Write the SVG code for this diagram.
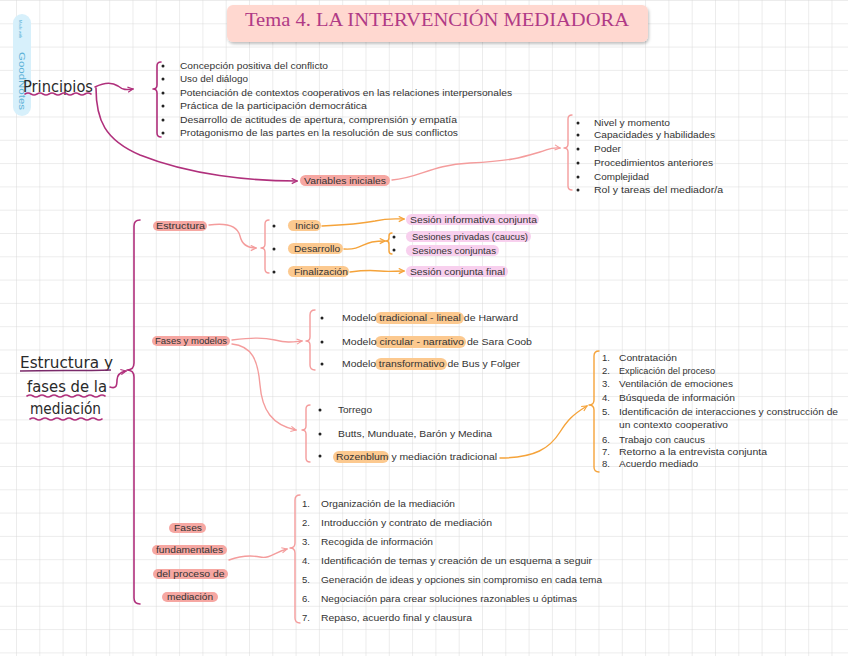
<svg xmlns="http://www.w3.org/2000/svg" width="848" height="656" viewBox="0 0 848 656">
<defs>
<pattern id="grid" patternUnits="userSpaceOnUse" x="16" y="0" width="23.3" height="23.3">
<path d="M0,0 H23.3 M0,0 V23.3" fill="none" stroke="#d9d9d9" stroke-width="1"/>
</pattern>
<filter id="shadow" x="-5%" y="-20%" width="110%" height="160%">
<feDropShadow dx="1" dy="2" stdDeviation="1.5" flood-color="#000" flood-opacity="0.25"/>
</filter>
<marker id="am" viewBox="0 0 8 8" refX="7" refY="4" markerWidth="7" markerHeight="7" orient="auto" markerUnits="userSpaceOnUse">
<path d="M1,1 L7,4 L1,7" fill="none" stroke="#b0307c" stroke-width="1.3"/>
</marker>
<marker id="as" viewBox="0 0 8 8" refX="7" refY="4" markerWidth="7" markerHeight="7" orient="auto" markerUnits="userSpaceOnUse">
<path d="M1,1 L7,4 L1,7" fill="none" stroke="#f49c9c" stroke-width="1.3"/>
</marker>
<marker id="ao" viewBox="0 0 8 8" refX="7" refY="4" markerWidth="7" markerHeight="7" orient="auto" markerUnits="userSpaceOnUse">
<path d="M1,1 L7,4 L1,7" fill="none" stroke="#f5a33a" stroke-width="1.3"/>
</marker>
</defs>
<style>
.t{font-family:"Liberation Sans","DejaVu Sans",sans-serif;font-size:9.5px;fill:#333;}
.big{font-family:"DejaVu Sans","Liberation Sans",sans-serif;font-size:15px;fill:#2a2a2a;}
.m{fill:none;stroke:#b0307c;stroke-width:1.6;stroke-linecap:round;stroke-linejoin:round;}
.s{fill:none;stroke:#f49c9c;stroke-width:1.4;stroke-linecap:round;stroke-linejoin:round;}
.o{fill:none;stroke:#f5a33a;stroke-width:1.4;stroke-linecap:round;stroke-linejoin:round;}
.ps{fill:#f6a7a2;}
.po{fill:#fcc98f;}
.pp{fill:#f8d0ee;}
.dot{fill:#222;}
</style>
<rect width="848" height="656" fill="#fff"/>
<rect width="848" height="656" fill="url(#grid)"/>

<g id="watermark">
<rect x="13" y="14" width="18" height="102" rx="9" fill="#d7f0fb"/>
<text transform="translate(19,20) rotate(90)" font-family="Liberation Sans,sans-serif" font-size="4" fill="#5fb3d8">Made with</text>
<text transform="translate(18.5,52) rotate(90)" font-family="Liberation Sans,sans-serif" font-size="9" fill="#5fb3d8" textLength="58" lengthAdjust="spacingAndGlyphs">GoodNotes</text>
</g>

<g id="title">
<rect x="227" y="5" width="421" height="37" rx="6" fill="#ffd8d0" filter="url(#shadow)"/>
<text x="437" y="26" text-anchor="middle" font-family="Liberation Serif,serif" font-size="19" fill="#b03a86" textLength="384" lengthAdjust="spacingAndGlyphs">Tema 4. LA INTERVENCIÓN MEDIADORA</text>
</g>

<g id="connectors">
<path class="m" d="M95,87 C105,82 112,82 118,86 C123,90 126,90 133,89" marker-end="url(#am)"/>
<path class="m" d="M96,88 C96,120 105,140 140,155 C190,175 250,181 297,181" marker-end="url(#am)"/>
<path class="s" d="M392,180 C420,178 430,165 470,163 C510,161 520,158 540,152 C548,150 550,147 560,148" marker-end="url(#as)"/>
<path class="m" d="M110,387 C116,389 117,386 117,380 C117,374 121,372 126,371" marker-end="url(#am)"/>
<path class="s" d="M209,225 C230,222 238,228 240,236 C242,245 248,248 256,248" marker-end="url(#as)"/>
<path class="o" d="M322,226 C345,225 360,224 375,221 C388,218 395,219 404,219" marker-end="url(#ao)"/>
<path class="o" d="M344,249 C360,250 362,244 372,242 C378,241 380,241 385,241" marker-end="url(#ao)"/>
<path class="o" d="M350,272 C365,270 370,270 380,271 C390,272 395,271 404,271" marker-end="url(#ao)"/>
<path class="s" d="M232,340 C250,338 262,337 275,340 C288,343 292,342 302,341" marker-end="url(#as)"/>
<path class="s" d="M232,344 C252,346 258,360 260,385 C262,410 272,425 296,430" marker-end="url(#as)"/>
<path class="o" d="M500,458 C535,458 550,448 560,432 C567,421 572,415 587,406" marker-end="url(#ao)"/>
<path class="s" d="M229,560 C240,556 250,555 260,557 C270,559 275,552 287,549" marker-end="url(#as)"/>
</g>

<g id="principios">
<text class="big" x="23" y="92" textLength="70" lengthAdjust="spacingAndGlyphs">Principios</text>
<path class="m" d="M25,94 q3,-2 6,0 t6,0 t6,0 t6,0 t6,0 t6,0 t6,0 t6,0 t6,0 t6,0 t6,0"/>
</g>

<g id="principios-list">
<path class="m" d="M161,62 Q157,62 157,66 L157,85 Q157,89 153,89 Q157,89 157,93 L157,133 Q157,137 161,137"/>
<circle class="dot" cx="163" cy="66" r="1.5"/>
<circle class="dot" cx="163" cy="79" r="1.5"/>
<circle class="dot" cx="163" cy="93" r="1.5"/>
<circle class="dot" cx="163" cy="106" r="1.5"/>
<circle class="dot" cx="163" cy="120" r="1.5"/>
<circle class="dot" cx="163" cy="133" r="1.5"/>
<text class="t" x="180" y="69" textLength="148" lengthAdjust="spacingAndGlyphs">Concepción positiva del conflicto</text>
<text class="t" x="180" y="82" textLength="68" lengthAdjust="spacingAndGlyphs">Uso del diálogo</text>
<text class="t" x="180" y="96" textLength="332" lengthAdjust="spacingAndGlyphs">Potenciación de contextos cooperativos en las relaciones interpersonales</text>
<text class="t" x="180" y="109" textLength="187" lengthAdjust="spacingAndGlyphs">Práctica de la participación democrática</text>
<text class="t" x="180" y="123" textLength="277" lengthAdjust="spacingAndGlyphs">Desarrollo de actitudes de apertura, comprensión y empatía</text>
<text class="t" x="180" y="136" textLength="278" lengthAdjust="spacingAndGlyphs">Protagonismo de las partes en la resolución de sus conflictos</text>
</g>

<g id="variables">
<rect class="ps" x="300" y="175" width="90" height="11" rx="5.5"/>
<text class="t" x="304" y="184" textLength="82" lengthAdjust="spacingAndGlyphs">Variables iniciales</text>
</g>

<g id="variables-list">
<path class="s" d="M572,115 Q568,115 568,119 L568,144 Q568,148 564,148 Q568,148 568,152 L568,186 Q568,190 572,190"/>
<circle class="dot" cx="578" cy="123" r="1.5"/>
<circle class="dot" cx="578" cy="135" r="1.5"/>
<circle class="dot" cx="578" cy="149" r="1.5"/>
<circle class="dot" cx="578" cy="163" r="1.5"/>
<circle class="dot" cx="578" cy="177" r="1.5"/>
<circle class="dot" cx="578" cy="190" r="1.5"/>
<text class="t" x="594" y="126" textLength="76" lengthAdjust="spacingAndGlyphs">Nivel y momento</text>
<text class="t" x="594" y="138" textLength="121" lengthAdjust="spacingAndGlyphs">Capacidades y habilidades</text>
<text class="t" x="594" y="152" textLength="27" lengthAdjust="spacingAndGlyphs">Poder</text>
<text class="t" x="594" y="166" textLength="119" lengthAdjust="spacingAndGlyphs">Procedimientos anteriores</text>
<text class="t" x="594" y="180" textLength="55" lengthAdjust="spacingAndGlyphs">Complejidad</text>
<text class="t" x="594" y="193" textLength="129" lengthAdjust="spacingAndGlyphs">Rol y tareas del mediador/a</text>
</g>

<g id="estructura-fases">
<text class="big" x="20" y="368" textLength="93" lengthAdjust="spacingAndGlyphs">Estructura y</text>
<text class="big" x="27" y="392" textLength="80" lengthAdjust="spacingAndGlyphs">fases de la</text>
<text class="big" x="30" y="414" textLength="71" lengthAdjust="spacingAndGlyphs">mediación</text>
<path d="M20,371 C50,370 80,371 111,370" fill="none" stroke="#7a2a6a" stroke-width="1.4"/>
<path class="m" d="M27,396 q3,-2 6,0 t6,0 t6,0 t6,0 t6,0 t6,0 t6,0 t6,0 t6,0 t6,0 t6,0 t6,0 t6,0"/>
<path class="m" d="M30,419 q3,-2 6,0 t6,0 t6,0 t6,0 t6,0 t6,0 t6,0 t6,0 t6,0 t6,0 t6,0 t6,0"/>
<path class="m" stroke-width="2" d="M140,220 Q134,220 134,226 L134,363 Q134,370 127,370 Q134,370 134,377 L134,598 Q134,604 140,604"/>
</g>

<g id="estructura">
<rect class="ps" x="153" y="221" width="54" height="10" rx="5"/>
<text class="t" x="156" y="229" textLength="49" lengthAdjust="spacingAndGlyphs">Estructura</text>
</g>

<g id="estructura-list">
<path class="s" d="M269,220 Q265,220 265,224 L265,244 Q265,248 261,248 Q265,248 265,252 L265,269 Q265,273 269,273"/>
<circle class="dot" cx="274" cy="226" r="1.5"/>
<circle class="dot" cx="274" cy="249" r="1.5"/>
<circle class="dot" cx="274" cy="272" r="1.5"/>
<rect class="po" x="288" y="220" width="33" height="11" rx="5.5"/>
<text class="t" x="295" y="229" textLength="24" lengthAdjust="spacingAndGlyphs">Inicio</text>
<rect class="po" x="288" y="243" width="55" height="11" rx="5.5"/>
<text class="t" x="294" y="252" textLength="46" lengthAdjust="spacingAndGlyphs">Desarrollo</text>
<rect class="po" x="288" y="266" width="61" height="11" rx="5.5"/>
<text class="t" x="294" y="275" textLength="54" lengthAdjust="spacingAndGlyphs">Finalización</text>
</g>

<g id="inicio-item">
<rect class="pp" x="406" y="214" width="133" height="11" rx="5.5"/>
<text class="t" x="410" y="223" textLength="127" lengthAdjust="spacingAndGlyphs">Sesión informativa conjunta</text>
</g>

<g id="desarrollo-items">
<path class="o" d="M392,233 Q389,233 389,236 L389,238 Q389,241 386,241 Q389,241 389,244 L389,251 Q389,254 392,254"/>
<circle class="dot" cx="394" cy="237" r="1.5"/>
<circle class="dot" cx="394" cy="250" r="1.5"/>
<rect class="pp" x="406" y="231" width="125" height="11" rx="5.5"/>
<text class="t" x="412" y="240" textLength="116" lengthAdjust="spacingAndGlyphs">Sesiones privadas (caucus)</text>
<rect class="pp" x="406" y="245" width="93" height="11" rx="5.5"/>
<text class="t" x="412" y="254" textLength="84" lengthAdjust="spacingAndGlyphs">Sesiones conjuntas</text>
</g>

<g id="finalizacion-item">
<rect class="pp" x="406" y="266" width="102" height="11" rx="5.5"/>
<text class="t" x="410" y="275" textLength="95" lengthAdjust="spacingAndGlyphs">Sesión conjunta final</text>
</g>

<g id="fases-modelos">
<rect class="ps" x="152" y="336" width="78" height="10" rx="5"/>
<text class="t" x="155" y="344" textLength="72" lengthAdjust="spacingAndGlyphs">Fases y modelos</text>
</g>

<g id="modelos-list">
<path class="s" d="M315,310 Q310,310 310,315 L310,337 Q310,341 306,341 Q310,341 310,345 L310,365 Q310,370 315,370"/>
<circle class="dot" cx="322" cy="318" r="1.5"/>
<circle class="dot" cx="322" cy="342" r="1.5"/>
<circle class="dot" cx="322" cy="364" r="1.5"/>
<rect class="po" x="375" y="312" width="89" height="12" rx="6"/>
<rect class="po" x="375" y="336" width="91" height="12" rx="6"/>
<rect class="po" x="375" y="358" width="72" height="12" rx="6"/>
<text class="t" x="342" y="321" textLength="176" lengthAdjust="spacingAndGlyphs">Modelo tradicional - lineal de Harward</text>
<text class="t" x="342" y="345" textLength="190" lengthAdjust="spacingAndGlyphs">Modelo circular - narrativo de Sara Coob</text>
<text class="t" x="342" y="367" textLength="178" lengthAdjust="spacingAndGlyphs">Modelo transformativo de Bus y Folger</text>
</g>

<g id="autores-list">
<path class="s" d="M310,405 Q306,405 306,409 L306,426 Q306,430 302,430 Q306,430 306,434 L306,458 Q306,462 310,462"/>
<circle class="dot" cx="320" cy="410" r="1.5"/>
<circle class="dot" cx="320" cy="434" r="1.5"/>
<circle class="dot" cx="320" cy="456" r="1.5"/>
<rect class="po" x="333" y="451" width="56" height="12" rx="6"/>
<text class="t" x="338" y="413" textLength="34" lengthAdjust="spacingAndGlyphs">Torrego</text>
<text class="t" x="338" y="437" textLength="154" lengthAdjust="spacingAndGlyphs">Butts, Munduate, Barón y Medina</text>
<text class="t" x="336" y="460" textLength="161" lengthAdjust="spacingAndGlyphs">Rozenblum y mediación tradicional</text>
</g>

<g id="rozenblum-fases">
<path class="o" d="M599,351 Q594,351 594,356 L594,400 Q594,405 589,405 Q594,405 594,410 L594,467 Q594,472 599,472"/>
<text class="t" x="602" y="361">1.</text>
<text class="t" x="602" y="374">2.</text>
<text class="t" x="602" y="387">3.</text>
<text class="t" x="602" y="401">4.</text>
<text class="t" x="602" y="415">5.</text>
<text class="t" x="602" y="443">6.</text>
<text class="t" x="602" y="455">7.</text>
<text class="t" x="602" y="467">8.</text>
<text class="t" x="619" y="361" textLength="58" lengthAdjust="spacingAndGlyphs">Contratación</text>
<text class="t" x="619" y="374" textLength="96" lengthAdjust="spacingAndGlyphs">Explicación del proceso</text>
<text class="t" x="619" y="387" textLength="114" lengthAdjust="spacingAndGlyphs">Ventilación de emociones</text>
<text class="t" x="619" y="401" textLength="116" lengthAdjust="spacingAndGlyphs">Búsqueda de información</text>
<text class="t" x="619" y="415" textLength="219" lengthAdjust="spacingAndGlyphs">Identificación de interacciones y construcción de</text>
<text class="t" x="619" y="428" textLength="109" lengthAdjust="spacingAndGlyphs">un contexto cooperativo</text>
<text class="t" x="619" y="443" textLength="86" lengthAdjust="spacingAndGlyphs">Trabajo con caucus</text>
<text class="t" x="619" y="455" textLength="148" lengthAdjust="spacingAndGlyphs">Retorno a la entrevista conjunta</text>
<text class="t" x="619" y="467" textLength="79" lengthAdjust="spacingAndGlyphs">Acuerdo mediado</text>
</g>

<g id="fases-fundamentales">
<rect class="ps" x="169" y="523" width="37" height="10" rx="5"/>
<rect class="ps" x="152" y="545" width="75" height="10" rx="5"/>
<rect class="ps" x="153" y="569" width="75" height="10" rx="5"/>
<rect class="ps" x="162" y="592" width="56" height="10" rx="5"/>
<text class="t" x="188" y="531" text-anchor="middle" textLength="28" lengthAdjust="spacingAndGlyphs">Fases</text>
<text class="t" x="189.5" y="553" text-anchor="middle" textLength="67" lengthAdjust="spacingAndGlyphs">fundamentales</text>
<text class="t" x="190.5" y="577" text-anchor="middle" textLength="68" lengthAdjust="spacingAndGlyphs">del proceso de</text>
<text class="t" x="190" y="600" text-anchor="middle" textLength="46" lengthAdjust="spacingAndGlyphs">mediación</text>
</g>

<g id="fases-fundamentales-list">
<path class="s" d="M300,495 Q295,495 295,500 L295,543 Q295,548 290,548 Q295,548 295,553 L295,618 Q295,623 300,623"/>
<text class="t" x="302" y="507">1.</text>
<text class="t" x="302" y="526">2.</text>
<text class="t" x="302" y="545">3.</text>
<text class="t" x="302" y="564">4.</text>
<text class="t" x="302" y="583">5.</text>
<text class="t" x="302" y="602">6.</text>
<text class="t" x="302" y="621">7.</text>
<text class="t" x="321" y="507" textLength="134" lengthAdjust="spacingAndGlyphs">Organización de la mediación</text>
<text class="t" x="321" y="526" textLength="171" lengthAdjust="spacingAndGlyphs">Introducción y contrato de mediación</text>
<text class="t" x="321" y="545" textLength="112" lengthAdjust="spacingAndGlyphs">Recogida de información</text>
<text class="t" x="321" y="564" textLength="271" lengthAdjust="spacingAndGlyphs">Identificación de temas y creación de un esquema a seguir</text>
<text class="t" x="321" y="583" textLength="281" lengthAdjust="spacingAndGlyphs">Generación de ideas y opciones sin compromiso en cada tema</text>
<text class="t" x="321" y="602" textLength="256" lengthAdjust="spacingAndGlyphs">Negociación para crear soluciones razonables u óptimas</text>
<text class="t" x="321" y="621" textLength="151" lengthAdjust="spacingAndGlyphs">Repaso, acuerdo final y clausura</text>
</g>
</svg>
